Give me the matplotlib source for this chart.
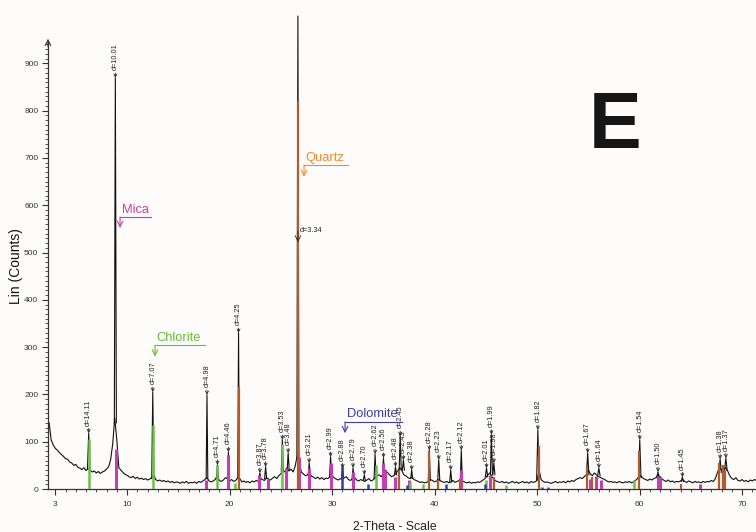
import numpy as np
import matplotlib.pyplot as plt

# Untergrund (Counts) im 0.2-Grad-Raster ab 2.4 Grad 2-Theta
bg_start = 2.4
bg_step = 0.2
bg_counts = [
    140, 104, 93, 86, 82, 77, 73, 69, 64, 63,
    57, 55, 50, 52, 46, 44, 41, 45, 39, 43,
    40, 36, 38, 34, 37, 33, 36, 38, 42, 47,
    62, 95, 150, 105, 45, 40, 35, 31, 29, 26,
    24, 27, 22, 25, 21, 23, 20, 22, 19, 21,
    24, 30, 20, 17, 19, 16, 18, 15, 17, 14,
    16, 13, 15, 14, 12, 15, 13, 16, 12, 14,
    13, 15, 12, 16, 14, 17, 20, 24, 17, 15,
    17, 20, 28, 18, 16, 19, 24, 22, 17, 20,
    16, 18, 24, 22, 15, 17, 14, 16, 13, 17,
    15, 18, 16, 22, 20, 18, 24, 21, 19, 23,
    26, 22, 28, 32, 40, 36, 45, 38, 42, 36,
    48, 70, 60, 36, 32, 28, 30, 34, 27, 25,
    22, 25, 21, 24, 20, 23, 22, 26, 28, 24,
    21, 19, 22, 20, 24, 26, 20, 18, 22, 24,
    19, 17, 20, 18, 16, 19, 22, 17, 19, 24,
    28, 30, 26, 32, 40, 35, 30, 26, 28, 32,
    38, 45, 40, 30, 28, 24, 22, 25, 20, 18,
    16, 14, 15, 13, 14, 16, 20, 18, 15, 17,
    20, 17, 15, 14, 16, 13, 15, 18, 14, 16,
    18, 22, 16, 14, 13, 15, 12, 14, 13, 15,
    14, 17, 20, 24, 30, 34, 26, 20, 17, 15,
    14, 16, 13, 15, 12, 14, 16, 13, 15, 12,
    14, 16, 13, 15, 12, 16, 14, 15, 18, 40,
    20, 16, 14, 15, 13, 12, 14, 16, 13, 15,
    14, 16, 13, 17, 15, 18, 16, 20, 22, 24,
    22, 26, 30, 40, 32, 28, 34, 30, 26, 24,
    22, 20, 17, 15, 16, 14, 15, 13, 16, 14,
    13, 15, 14, 16, 13, 15, 18, 22, 30, 26,
    22, 20, 18, 21, 19, 22, 24, 30, 26, 21,
    18, 16, 19, 15, 17, 14, 16, 15, 17, 20,
    16, 14, 17, 15, 13, 16, 14, 15, 13, 16,
    14, 16, 15, 18, 16, 22, 35, 45, 40, 42,
    45, 38, 28, 22, 20, 24, 18, 17, 20, 16,
    18, 15, 19, 17, 20, 18,
]

# Reflexe: Lage, Hoehe, Fuss, halbe Breite, d-Wert
peak_theta = [6.26, 8.86, 12.51, 17.80, 18.82, 19.89, 20.88, 22.96, 23.52,
              25.15, 25.72, 26.67, 27.77, 29.86, 31.03, 32.05, 33.15, 34.20,
              35.02, 36.19, 36.65, 36.96, 37.77, 39.49, 40.41, 41.58, 42.61,
              45.07, 45.55, 45.79, 50.08, 54.94, 56.03, 60.02, 61.80, 64.18,
              67.86, 68.42]
peak_counts = [118, 869, 205, 199, 51, 78, 330, 34, 47,
               104, 76, 1000, 55, 68, 44, 45, 30, 74,
               66, 47, 112, 61, 40, 82, 62, 40, 82,
               44, 115, 55, 125, 76, 44, 104, 36, 25,
               63, 65]
peak_base = [42, 140, 22, 22, 22, 22, 22, 22, 22,
             38, 40, 65, 30, 26, 24, 20, 18, 22,
             30, 30, 40, 40, 22, 18, 18, 15, 18,
             26, 30, 30, 18, 30, 28, 24, 24, 16,
             35, 40]
peak_width = [0.12, 0.1, 0.1, 0.08, 0.1, 0.1, 0.08, 0.1, 0.1,
              0.1, 0.1, 0.1, 0.1, 0.1, 0.1, 0.1, 0.1, 0.1,
              0.1, 0.1, 0.1, 0.1, 0.1, 0.1, 0.1, 0.1, 0.1,
              0.12, 0.1, 0.1, 0.12, 0.12, 0.12, 0.12, 0.12, 0.1,
              0.12, 0.12]
peak_labels = ['d=14.11', 'd=10.01', 'd=7.07', 'd=4.98', 'd=4.71', 'd=4.46',
               'd=4.25', 'd=3.87', 'd=3.78', 'd=3.53', 'd=3.48', 'd=3.34',
               'd=3.21', 'd=2.99', 'd=2.88', 'd=2.79', 'd=2.70', 'd=2.62',
               'd=2.56', 'd=2.48', 'd=2.45', 'd=2.43', 'd=2.38', 'd=2.28',
               'd=2.23', 'd=2.17', 'd=2.12', 'd=2.01', 'd=1.99', 'd=1.98',
               'd=1.82', 'd=1.67', 'd=1.64', 'd=1.54', 'd=1.50', 'd=1.45',
               'd=1.38', 'd=1.37']

# Referenzlinien der Phasen
mica_theta = [8.88, 17.75, 19.89, 22.9, 23.8, 25.55, 26.75, 27.8, 29.9, 32.0,
              34.95, 35.2, 36.1, 37.5, 42.55, 45.45, 55.2, 55.8, 56.2, 61.8,
              61.95, 65.9]
mica_counts = [85, 20, 72, 30, 22, 45, 68, 45, 55, 35,
               55, 40, 25, 20, 40, 30, 22, 28, 20, 28,
               25, 10]
chlorite_theta = [6.26, 12.51, 18.82, 20.5, 25.12, 34.25, 37.6, 38.9, 45.0, 47.0, 59.5]
chlorite_counts = [105, 135, 50, 12, 95, 50, 15, 10, 20, 8, 20]
quartz_theta = [20.88, 26.65, 36.55, 39.47, 40.3, 42.45, 45.8, 50.15, 54.88,
                55.33, 59.97, 64.03, 67.74, 68.14, 68.32]
quartz_counts = [215, 820, 40, 80, 20, 20, 25, 90, 45,
                 25, 80, 10, 55, 50, 40]
dolomite_theta = [31.0, 33.5, 37.35, 41.1, 44.9, 50.5, 51.05]
dolomite_counts = [48, 10, 8, 10, 10, 5, 5]

# Phasenbeschriftung: Name, Pfeil-x, Unterstrich-y, Pfeilspitze-y, Farbe
phase_names = ['Mica', 'Quartz', 'Chlorite', 'Dolomite']
phase_x = [9.32, 27.27, 12.73, 31.27]
phase_line_y = [575, 685, 304, 142]
phase_tip_y = [552, 660, 280, 118]
phase_colors = ['#c23fae', '#f08c2a', '#66bb3a', '#3c3ca6']

small_font = ['Liberation Sans Narrow', 'Liberation Sans', 'DejaVu Sans']
plt.rcParams['font.family'] = ['Liberation Sans', 'DejaVu Sans']

fig = plt.figure(figsize=(7.56, 5.32), dpi=100, facecolor='#fdfcfa')
ax = fig.add_axes([48 / 756, 43 / 532, 708.4 / 756, 477.7 / 532])
ax.set_facecolor('#fdfcfa')

# Messkurve
bg_theta = bg_start + bg_step * np.arange(len(bg_counts))
ax.plot(bg_theta, bg_counts, color='#111111', lw=0.8, zorder=2)
for t, c, b, w in zip(peak_theta, peak_counts, peak_base, peak_width):
    ax.plot([t - w, t, t + w], [b, c, b], color='#111111', lw=0.8, zorder=2)

# Phasen-Sticks
ax.vlines(mica_theta, 0, mica_counts, color='#c23fae', lw=2.2, zorder=3)
ax.vlines(chlorite_theta, 0, chlorite_counts, color='#6cc04a', lw=1.8, zorder=3)
ax.vlines(quartz_theta, 0, quartz_counts, color='#ad5e2c', lw=1.6, zorder=3)
ax.vlines(dolomite_theta, 0, dolomite_counts, color='#3a3aaa', lw=1.8, zorder=3)

# d-Werte
for t, c, lab in zip(peak_theta, peak_counts, peak_labels):
    if lab == 'd=3.34':
        ax.annotate('', xy=(t, 522), xytext=(t, 546),
                    arrowprops=dict(arrowstyle='->', lw=0.6, color='#222222',
                                    shrinkA=0, shrinkB=0), zorder=4)
        ax.text(t + 0.15, 540, lab, fontsize=5.3, family=small_font,
                color='#222222', va='bottom', ha='left', zorder=4)
        continue
    ax.annotate(lab, xy=(t, c), xytext=(0, 5.5), textcoords='offset points',
                rotation=90, ha='center', va='bottom', fontsize=5.3,
                family=small_font, color='#222222', zorder=4,
                arrowprops=dict(arrowstyle='->', lw=0.6, color='#222222',
                                shrinkA=0, shrinkB=0))

# Phasennamen mit Unterstrich und Pfeil
fig.canvas.draw()
inv = ax.transData.inverted()
for name, x, ly, ty, col in zip(phase_names, phase_x, phase_line_y, phase_tip_y, phase_colors):
    txt = ax.text(x + 0.15, ly + 3, name, fontsize=9.3, color=col,
                  va='bottom', ha='left', zorder=4)
    bb = txt.get_window_extent(renderer=fig.canvas.get_renderer())
    x_end = inv.transform((bb.x1, bb.y0))[0]
    ax.plot([x, x_end], [ly, ly], color=col, lw=0.8, zorder=4)
    ax.annotate('', xy=(x, ty), xytext=(x, ly),
                arrowprops=dict(arrowstyle='->', lw=0.8, color=col,
                                shrinkA=0, shrinkB=0), zorder=4)

# Achsen
ax.set_xlim(2.29, 71.4)
ax.set_ylim(0, 1010)
for s in ['top', 'right']:
    ax.spines[s].set_visible(False)
ax.spines['left'].set_bounds(0, 945)
ax.spines['left'].set_color('#333333')
ax.spines['bottom'].set_color('#333333')
ax.spines['left'].set_linewidth(0.9)
ax.spines['bottom'].set_linewidth(0.9)
ax.annotate('', xy=(2.29, 952), xytext=(2.29, 935),
            arrowprops=dict(arrowstyle='->', lw=0.8, color='#333333',
                            shrinkA=0, shrinkB=0), annotation_clip=False)

ax.set_xticks([3, 10, 20, 30, 40, 50, 60, 70])
ax.set_xticks(np.arange(3, 72, 1), minor=True)
ax.set_yticks(np.arange(0, 1000, 100))
ax.set_yticks(np.arange(0, 950, 10), minor=True)
ax.tick_params(axis='both', which='major', length=4, width=0.8, color='#333333',
               labelsize=6, labelcolor='#333333')
ax.tick_params(axis='both', which='minor', length=2.2, width=0.6, color='#333333')
ax.tick_params(axis='x', pad=5)
ax.tick_params(axis='y', pad=3)

fig.text(16 / 756, 1 - 266 / 532, 'Lin (Counts)', rotation=90, fontsize=10,
         ha='center', va='center', color='#111111')
fig.text(395 / 756, 1 - 527 / 532, '2-Theta - Scale', fontsize=8.8,
         ha='center', va='center', color='#222222')
fig.text(615 / 756, 1 - 148 / 532, 'E', fontsize=57, fontweight='bold',
         ha='center', va='baseline', color='#161616')

fig.savefig('out.png', dpi=100, facecolor=fig.get_facecolor())
